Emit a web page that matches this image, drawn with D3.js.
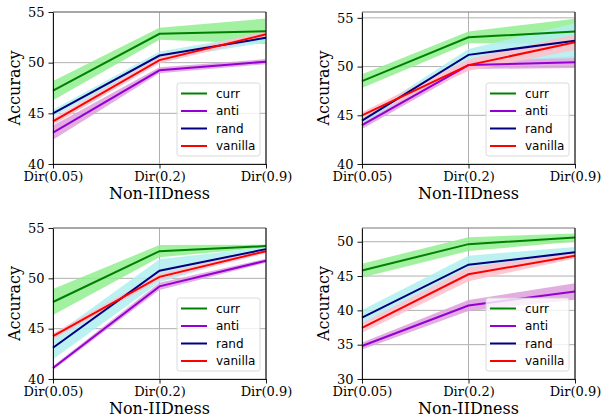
<!DOCTYPE html>
<html lang="en">
<head>
    <meta charset="UTF-8">
    <title>Accuracy vs Non-IIDness</title>
    <script src="https://d3js.org/d3.v7.min.js"></script>
    <style>
        body { margin: 0; background: #fff; }
        .axis text { font-family: "DejaVu Serif", serif; font-size: 13px; fill: #000; }
        .axis path, .axis line { stroke: #000; stroke-width: 0.9; }
        .lbl { font-family: "DejaVu Serif", serif; font-size: 16px; fill: #000; }
        .leg text { font-family: "DejaVu Sans", sans-serif; font-size: 12px; fill: #000; }
    </style>
</head>
<body>
<script>
    var categories = ["Dir(0.05)", "Dir(0.2)", "Dir(0.9)"];
    var seriesNames = ["curr", "anti", "rand", "vanilla"];

    // mean accuracy per panel, per series
    var p1Mean = [[47.25, 52.85, 53.1], [43.1, 49.25, 50.1], [45.0, 50.7, 52.45], [44.2, 50.25, 52.8]];
    var p1Err  = [[0.95, 0.6, 1.25], [0.7, 0.3, 0.25], [0.35, 0.4, 0.45], [0.35, 0.3, 0.35]];
    var p2Mean = [[48.5, 53.0, 53.6], [44.0, 50.15, 50.45], [44.45, 51.2, 52.65], [45.0, 50.15, 52.5]];
    var p2Err  = [[0.7, 0.6, 1.3], [0.4, 0.4, 0.6], [0.3, 0.6, 1.8], [0.3, 0.6, 0.8]];
    var p3Mean = [[47.65, 52.7, 53.2], [41.1, 49.2, 51.75], [43.1, 50.75, 52.9], [44.25, 50.15, 52.7]];
    var p3Err  = [[1.3, 0.6, 0.15], [0.2, 0.35, 0.2], [1.15, 1.15, 0.2], [0.3, 0.3, 0.2]];
    var p4Mean = [[45.8, 49.65, 50.6], [34.8, 40.7, 42.75], [38.95, 46.65, 48.45], [37.45, 45.25, 47.95]];
    var p4Err  = [[1.0, 1.0, 0.6], [0.5, 0.8, 1.2], [1.1, 1.3, 0.8], [0.7, 1.0, 0.4]];

    var yDomains = [[40, 55], [40, 55.6], [40, 55], [30, 52]];
    var yTicks = [[40, 45, 50, 55], [40, 45, 50, 55], [40, 45, 50, 55], [30, 35, 40, 45, 50]];

    var lineColors = ["green", "darkviolet", "navy", "red"];
    var bandColors = ["lightgreen", "plum", "paleturquoise", "pink"];

    var panels = [
        {mean: p1Mean, err: p1Err, x0: 53, x1: 266, y0: 12, y1: 164},
        {mean: p2Mean, err: p2Err, x0: 362, x1: 575, y0: 12, y1: 164},
        {mean: p3Mean, err: p3Err, x0: 53, x1: 266, y0: 228, y1: 379},
        {mean: p4Mean, err: p4Err, x0: 362, x1: 575, y0: 228, y1: 379}
    ];

    var svg = d3.select("body").append("svg")
        .attr("width", 602)
        .attr("height", 415);

    panels.forEach(function (p, k) {
        var x = d3.scalePoint().domain(categories).range([p.x0, p.x1]);
        var y = d3.scaleLinear().domain(yDomains[k]).range([p.y1, p.y0]);
        var g = svg.append("g");

        // grid
        g.selectAll(".hg").data(yTicks[k]).enter().append("line")
            .attr("x1", p.x0).attr("x2", p.x1)
            .attr("y1", y).attr("y2", y)
            .attr("stroke", "#b0b0b0").attr("stroke-width", 1);
        g.selectAll(".vg").data(categories).enter().append("line")
            .attr("x1", x).attr("x2", x)
            .attr("y1", p.y0).attr("y2", p.y1)
            .attr("stroke", "#b0b0b0").attr("stroke-width", 1);

        // bands
        var area = d3.area()
            .x(function (d, i) { return x(categories[i]); })
            .y0(function (d) { return y(d[0] - d[1]); })
            .y1(function (d) { return y(d[0] + d[1]); });
        seriesNames.forEach(function (s, j) {
            var pts = p.mean[j].map(function (m, i) { return [m, p.err[j][i]]; });
            g.append("path").datum(pts)
                .attr("d", area)
                .attr("fill", bandColors[j])
                .attr("fill-opacity", 0.85);
        });

        // lines
        var line = d3.line().x(function (d, i) { return x(categories[i]); }).y(function (d) { return y(d); });
        seriesNames.forEach(function (s, j) {
            g.append("path").datum(p.mean[j])
                .attr("d", line)
                .attr("fill", "none")
                .attr("stroke", lineColors[j])
                .attr("stroke-width", 2);
        });

        // top / right frame
        g.append("line").attr("x1", p.x0).attr("x2", p.x1).attr("y1", p.y0).attr("y2", p.y0)
            .attr("stroke", "#777").attr("stroke-width", 1);
        g.append("line").attr("x1", p.x1).attr("x2", p.x1).attr("y1", p.y0).attr("y2", p.y1)
            .attr("stroke", "#000").attr("stroke-width", 1);

        // axes
        g.append("g").attr("class", "axis")
            .attr("transform", "translate(0," + p.y1 + ")")
            .call(d3.axisBottom(x).tickSize(4.5).tickPadding(3.2).tickSizeOuter(0));
        g.append("g").attr("class", "axis")
            .attr("transform", "translate(" + p.x0 + ",0)")
            .call(d3.axisLeft(y).tickValues(yTicks[k]).tickSize(4.5).tickPadding(4).tickSizeOuter(0));

        // axis labels
        g.append("text").attr("class", "lbl")
            .attr("x", (p.x0 + p.x1) / 2).attr("y", p.y1 + 34.5)
            .attr("text-anchor", "middle")
            .text("Non-IIDness");
        g.append("text").attr("class", "lbl")
            .attr("transform", "translate(" + (p.x0 - 33) + "," + ((p.y0 + p.y1) / 2) + ") rotate(-90)")
            .attr("text-anchor", "middle")
            .text("Accuracy");

        // legend
        var lx = p.x1 - 89, ly = p.y1 - 81;
        var leg = g.append("g").attr("class", "leg");
        leg.append("rect")
            .attr("x", lx).attr("y", ly).attr("width", 83).attr("height", 73)
            .attr("rx", 2.5)
            .attr("fill", "#fff").attr("fill-opacity", 0.8)
            .attr("stroke", "#d0d0d0").attr("stroke-width", 0.8);
        seriesNames.forEach(function (s, j) {
            var ry = ly + 10.5 + j * 17.5;
            leg.append("line")
                .attr("x1", lx + 4).attr("x2", lx + 30)
                .attr("y1", ry).attr("y2", ry)
                .attr("stroke", lineColors[j]).attr("stroke-width", 2);
            leg.append("text")
                .attr("x", lx + 39).attr("y", ry + 4.3)
                .text(s);
        });
    });
</script>
</body>
</html>
